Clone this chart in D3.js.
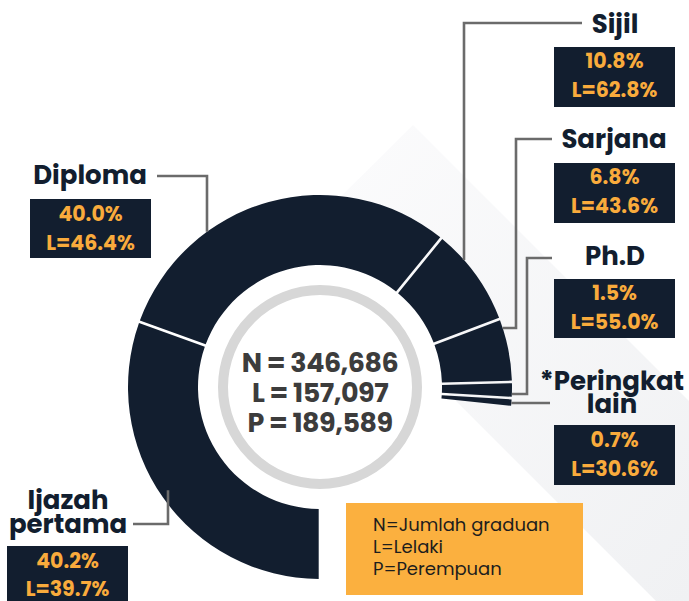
<!DOCTYPE html>
<html>
<head>
<meta charset="utf-8">
<script src="https://cdn.jsdelivr.net/npm/d3@7"></script>
<style>
  html, body { margin: 0; padding: 0; background: #ffffff; }
  svg { display: block; }
</style>
</head>
<body>
<div id="chart"></div>
<script>
// ---------------- data ----------------
const categories = ["Ijazah pertama", "Diploma", "Sijil", "Sarjana", "Ph.D", "*Peringkat lain"];
const shares = [40.2, 40.0, 10.8, 6.8, 1.5, 0.7];          // % of graduates
const maleShares = [39.7, 46.4, 62.8, 43.6, 55.0, 30.6];    // L = % male
const totalKeys = ["N", "L", "P"];
const totalValues = [346686, 157097, 189589];
const legendLines = ["N=Jumlah graduan", "L=Lelaki", "P=Perempuan"];

// ---------------- layout ----------------
const W = 689, H = 601;
const cx = 320, cy = 387, R = 192, r0 = 122;
const sweepDeg = 276;
const navy = "#121e2f", orange = "#f9ab3c", lineGrey = "#6b6b6b";
const FONT = "'Poppins','DejaVu Sans',sans-serif";

// label layout: title lines + centre x + baselines; box rect + box baselines; leader
const labelLayout = [
  { lines: ["Ijazah", "pertama"], tx: 68, ty: [509, 533], box: [7, 546, 121, 60], by: [568, 596],
    leader: { start: [133, 524], corner: [168, 524], mode: "vx", inset: 14 } },
  { lines: ["Diploma"], tx: 90, ty: [184], box: [30, 199, 121, 59], by: [221, 250],
    leader: { start: [157, 176], corner: [207, 176], mode: "vx", inset: 0 } },
  { lines: ["Sijil"], tx: 615, ty: [33], box: [554, 47, 121, 60], by: [68, 97],
    leader: { start: [582, 23], corner: [464, 23], mode: "vx", inset: 0 } },
  { lines: ["Sarjana"], tx: 614, ty: [148], box: [554, 163, 121, 60], by: [184, 213],
    leader: { start: [552, 139], corner: [516, 139], mid: [516, 328], mode: "hy", inset: 0 } },
  { lines: ["Ph.D"], tx: 615, ty: [265], box: [554, 279, 121, 59], by: [300, 329],
    leader: { start: [552, 258], corner: [527, 258], mid: [527, 394], mode: "hy", inset: 0 } },
  { lines: ["*Peringkat", "lain"], tx: 612, ty: [390, 413], box: [554, 425, 121, 60], by: [447, 476],
    leader: { start: [550, 403], corner: [550, 403], mode: "hy", inset: 0 } }
];

const svg = d3.select("#chart").append("svg")
  .attr("width", W).attr("height", H)
  .attr("viewBox", `0 0 ${W} ${H}`);

// background diagonal band
const defs = svg.append("defs");
const grad = defs.append("linearGradient").attr("id", "bandGrad")
  .attr("x1", "0").attr("y1", "0").attr("x2", "1").attr("y2", "1");
grad.append("stop").attr("offset", "0%").attr("stop-color", "#fcfcfd");
grad.append("stop").attr("offset", "100%").attr("stop-color", "#f0f1f3");
svg.append("path")
  .attr("d", d3.line()([[413, 125], [689, 401], [689, 601], [656, 601], [296, 241]]) + "Z")
  .attr("fill", "url(#bandGrad)");

// ---------------- donut ----------------
const pie = d3.pie().sort(null).value(d => d)
  .startAngle(Math.PI)
  .endAngle(Math.PI + sweepDeg * Math.PI / 180)
  .padAngle(2.6 / R);
const arc = d3.arc().innerRadius(r0).outerRadius(R).padRadius(R);

const g = svg.append("g").attr("transform", `translate(${cx},${cy})`);
g.append("circle").attr("r", r0).attr("fill", "#ffffff");
g.selectAll("path.slice").data(pie(shares)).join("path")
  .attr("class", "slice")
  .attr("d", arc)
  .attr("fill", navy);

// inner grey ring
g.append("circle").attr("r", 97).attr("fill", "none")
  .attr("stroke", "#d7d7d7").attr("stroke-width", 10);

// centre totals
const fmt = d3.format(",");
g.selectAll("text.total").data(totalKeys).join("text")
  .attr("class", "total")
  .attr("x", 0)
  .attr("y", (d, i) => -15 + i * 30)
  .attr("text-anchor", "middle")
  .attr("font-family", FONT)
  .attr("font-weight", 700)
  .attr("font-size", 27)
  .attr("letter-spacing", -0.5)
  .attr("fill", "#3c3c3c")
  .text((d, i) => `${d} = ${fmt(totalValues[i])}`);

// ---------------- leaders ----------------
function leaderPoints(L) {
  const pts = [L.start, L.corner];
  if (L.mode === "vx") {
    const x = L.corner[0];
    const dy = Math.sqrt(R * R - (x - cx) * (x - cx));
    const yTop = L.corner[1] < cy ? cy - dy : cy + dy;
    pts.push([x, L.corner[1] < cy ? yTop + L.inset : yTop - L.inset]);
  } else {
    if (L.mid) pts.push(L.mid);
    const y = (L.mid || L.corner)[1];
    const x = cx + Math.sqrt(R * R - (y - cy) * (y - cy));
    pts.push([x, y]);
  }
  return pts;
}
svg.append("g").selectAll("path").data(labelLayout).join("path")
  .attr("d", d => d3.line()(leaderPoints(d.leader)))
  .attr("fill", "none")
  .attr("stroke", lineGrey)
  .attr("stroke-width", 2.6);

// ---------------- labels ----------------
const lab = svg.append("g").selectAll("g").data(labelLayout).join("g");
lab.each(function (d, i) {
  const s = d3.select(this);
  d.lines.forEach((ln, j) => {
    s.append("text")
      .attr("x", d.tx).attr("y", d.ty[j])
      .attr("text-anchor", "middle")
      .attr("font-family", FONT)
      .attr("font-weight", 700)
      .attr("font-size", 26)
      .attr("fill", navy)
      .text(ln);
  });
  s.append("rect")
    .attr("x", d.box[0]).attr("y", d.box[1])
    .attr("width", d.box[2]).attr("height", d.box[3])
    .attr("fill", navy);
  const boxTexts = [`${shares[i].toFixed(1)}%`, `L=${maleShares[i].toFixed(1)}%`];
  boxTexts.forEach((t, j) => {
    s.append("text")
      .attr("x", d.box[0] + d.box[2] / 2).attr("y", d.by[j])
      .attr("text-anchor", "middle")
      .attr("font-family", FONT)
      .attr("font-weight", 700)
      .attr("font-size", 20.5)
      .attr("fill", orange)
      .text(t);
  });
});

// ---------------- legend box ----------------
const lg = svg.append("g");
lg.append("rect").attr("x", 346).attr("y", 503).attr("width", 237).attr("height", 92)
  .attr("fill", "#fbb03f");
lg.selectAll("text").data(legendLines).join("text")
  .attr("x", 373)
  .attr("y", (d, i) => 531 + i * 22)
  .attr("font-family", FONT)
  .attr("font-size", 18)
  .attr("fill", "#1d1d1d")
  .text(d => d);
</script>
</body>
</html>
